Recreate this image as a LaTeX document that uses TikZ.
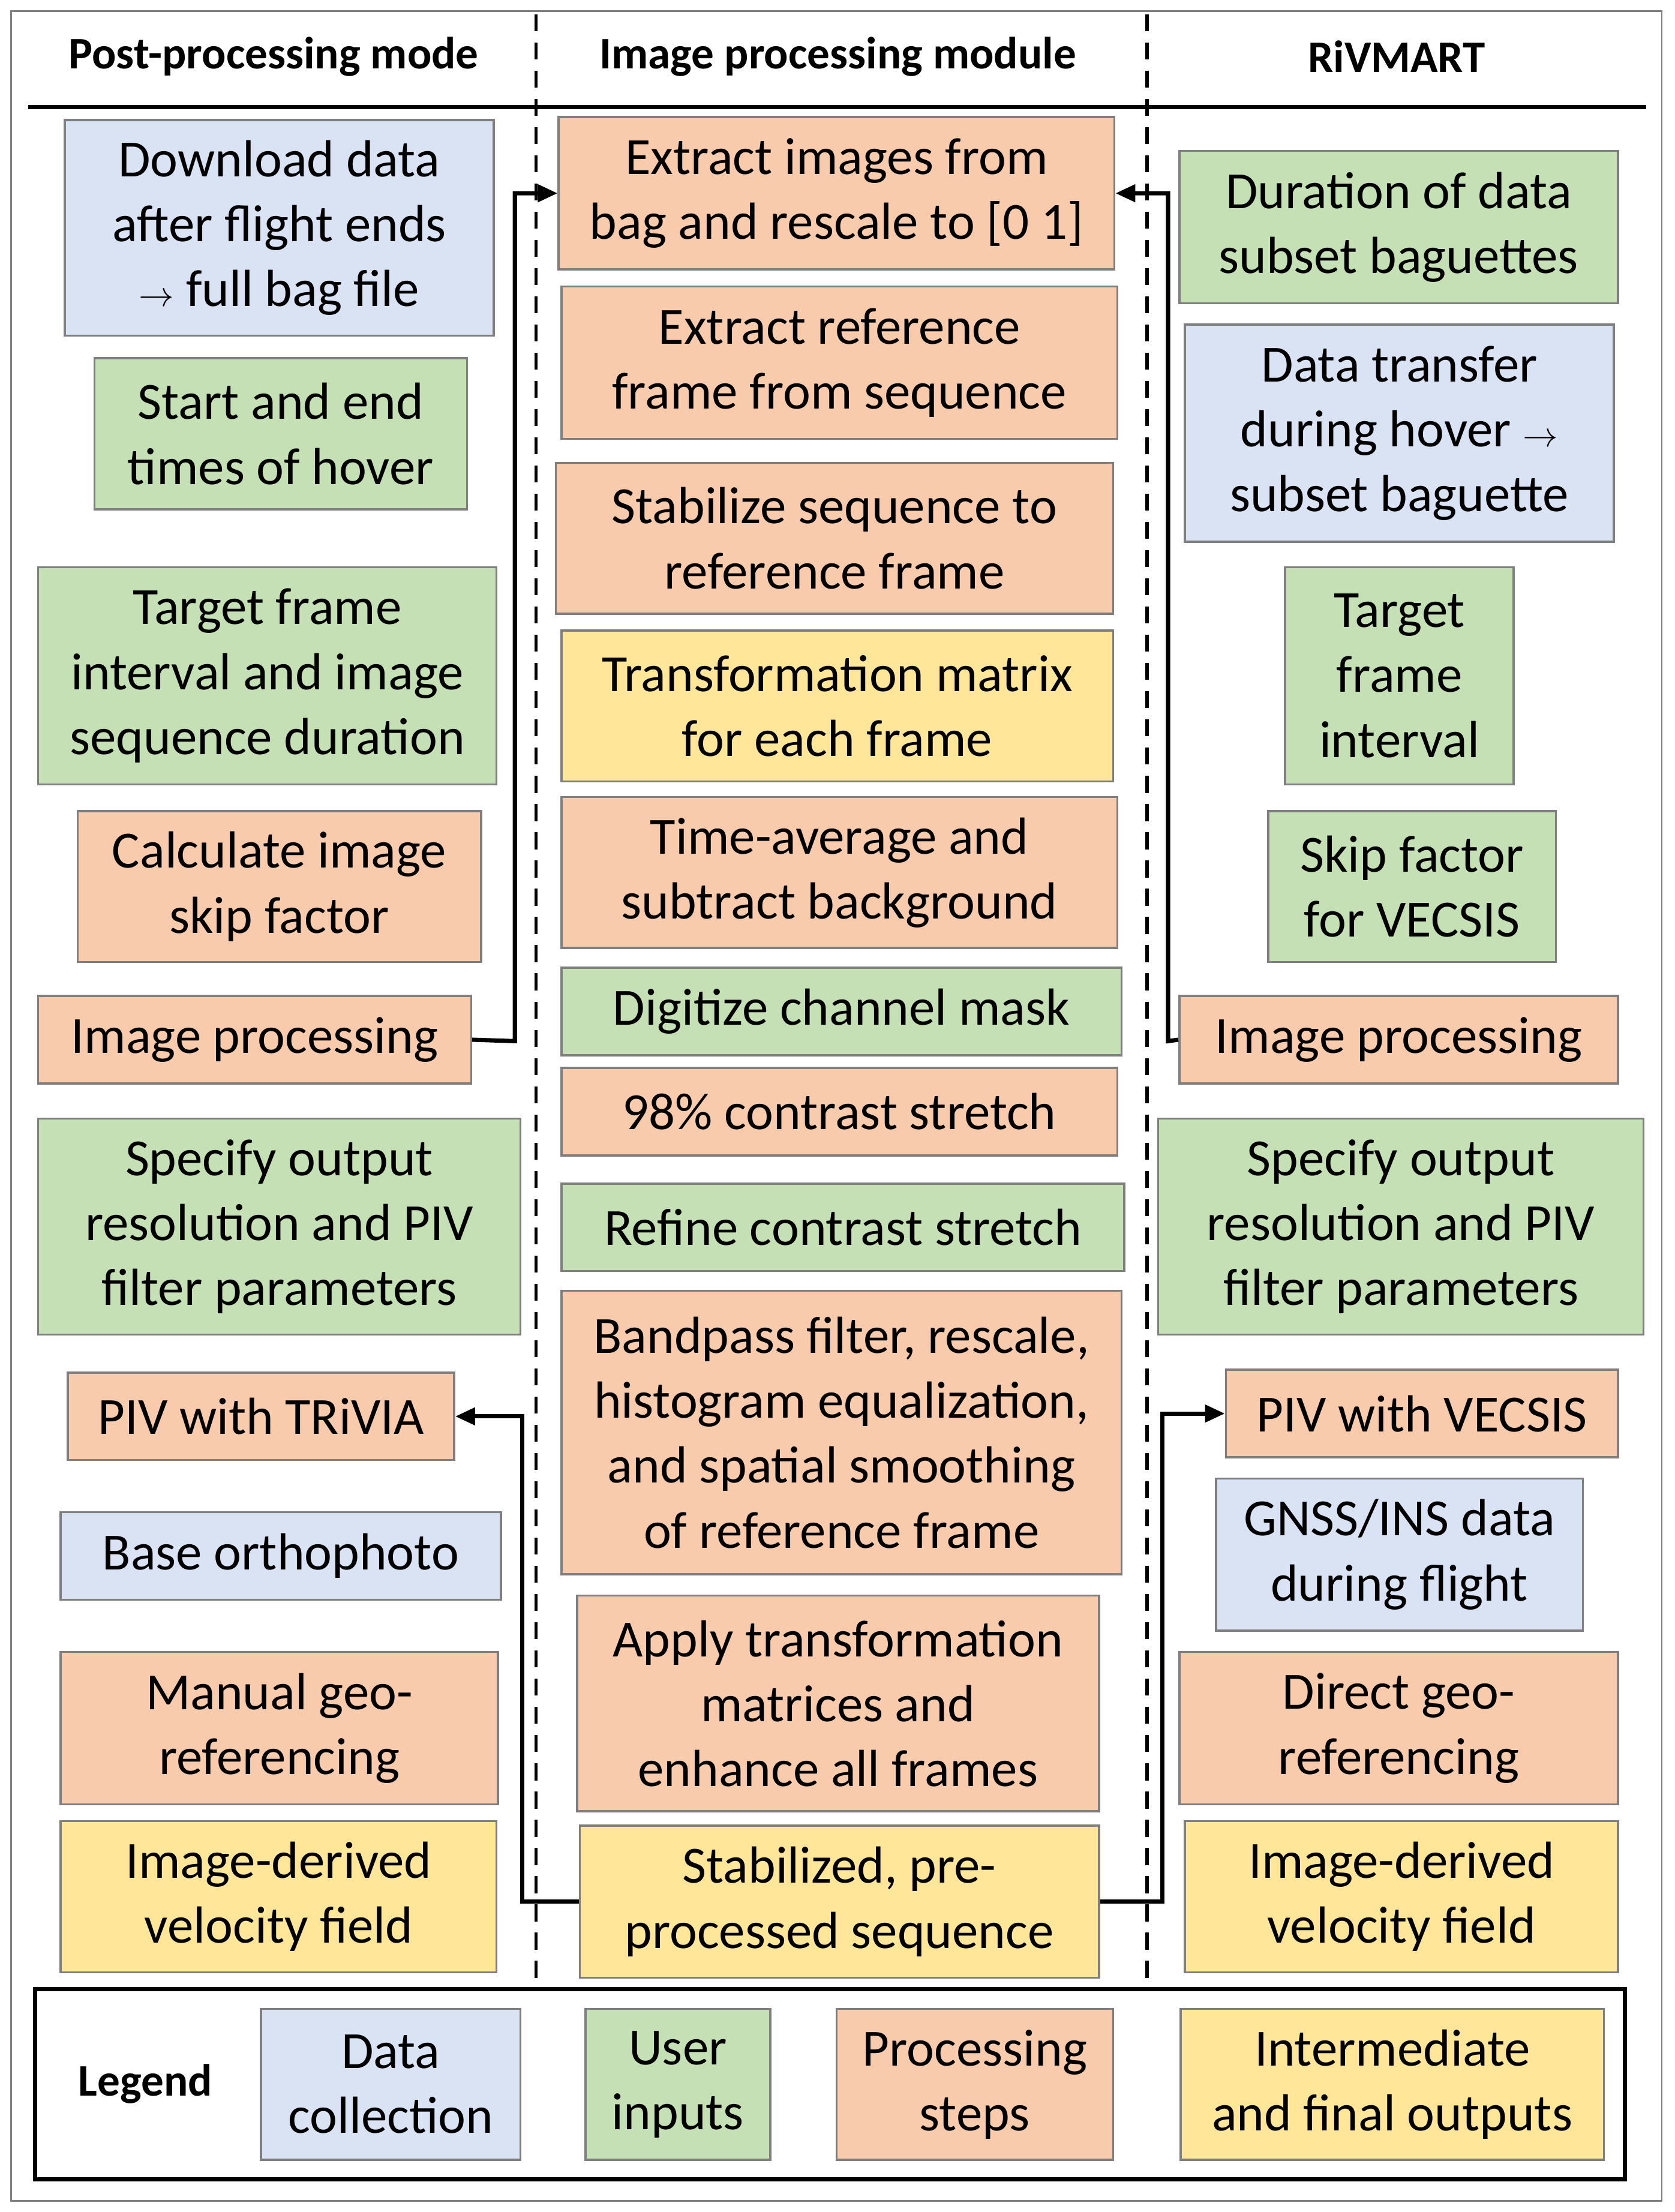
\documentclass[tikz,border=0pt]{standalone}
\usepackage{fontspec}
\setmainfont{Carlito}
\usetikzlibrary{arrows.meta}
\definecolor{cblue}{HTML}{DAE3F3}
\definecolor{cgreen}{HTML}{C5E0B4}
\definecolor{corange}{HTML}{F8CBAD}
\definecolor{cyellow}{HTML}{FFE699}
\definecolor{cedge}{HTML}{7F7F7F}
\tikzset{
 base/.style={draw=cedge,line width=1.5pt,align=center,inner sep=0pt,font=\fontsize{37}{46}\selectfont},
 blu/.style={base,fill=cblue}, grn/.style={base,fill=cgreen},
 org/.style={base,fill=corange}, yel/.style={base,fill=cyellow},
 hdr/.style={font=\fontsize{32}{38}\selectfont\bfseries},
 flow/.style={line width=3pt,-{Triangle[length=14pt,width=12pt]}},
 sep/.style={line width=2.5pt,dash pattern=on 12pt off 8pt}
}
\newcommand\bx[7]{\node[#6, minimum width={(#4-#2)*1pt}, minimum height={(#5-#3)*1pt}] (#1) at ({(#2+#4)/2},{(#3+#5)/2}) {#7};}
\begin{document}
\begin{tikzpicture}[x=1pt,y=-1pt]
\useasboundingbox[fill=white] (0,0) rectangle (1187,1568);
\draw[cedge,line width=1.2pt] (8,8) rectangle (1178,1560);
\node[hdr] (h1) at (194,40) {Post-processing mode};
\node[hdr] (h2) at (594,40) {Image processing module};
\node[hdr] (h3) at (990,40) {RiVMART};
\draw[line width=3pt] (20,76) -- (1167,76);
\draw[sep] (380,10) -- (380,1410);
\draw[sep] (813,10) -- (813,1410);
% left
\bx{l1}{46}{85}{350}{238}{blu}{Download data\\after flight ends\\$\rightarrow$ full bag file}
\bx{l2}{67}{254}{331}{361}{grn}{Start and end\\times of hover}
\bx{l3}{27}{402}{352}{556}{grn}{Target frame\\interval and image\\sequence duration}
\bx{l4}{55}{575}{341}{682}{org}{Calculate image\\skip factor}
\bx{l5}{27}{706}{334}{768}{org}{Image processing}
\bx{l6}{27}{793}{369}{946}{grn}{Specify output\\resolution and PIV\\filter parameters}
\bx{l7}{48}{973}{322}{1035}{org}{PIV with TRiVIA}
\bx{l8}{43}{1072}{355}{1134}{blu}{Base orthophoto}
\bx{l9}{43}{1171}{353}{1279}{org}{Manual geo-\\referencing}
\bx{l10}{43}{1291}{352}{1398}{yel}{Image-derived\\velocity field}
% middle
\bx{m1}{396}{83}{790}{191}{org}{Extract images from\\bag and rescale to [0 1]}
\bx{m2}{398}{203}{792}{311}{org}{Extract reference\\frame from sequence}
\bx{m3}{394}{328}{789}{435}{org}{Stabilize sequence to\\reference frame}
\bx{m4}{398}{447}{789}{554}{yel}{Transformation matrix\\for each frame}
\bx{m5}{398}{565}{792}{672}{org}{Time-average and\\subtract background}
\bx{m6}{398}{686}{795}{748}{grn}{Digitize channel mask}
\bx{m7}{398}{757}{792}{819}{org}{98\% contrast stretch}
\bx{m8}{398}{839}{797}{901}{grn}{Refine contrast stretch}
\bx{m9}{398}{915}{795}{1116}{org}{Bandpass filter, rescale,\\histogram equalization,\\and spatial smoothing\\of reference frame}
\bx{m10}{409}{1131}{779}{1284}{org}{Apply transformation\\matrices and\\enhance all frames}
\bx{m11}{411}{1294}{779}{1402}{yel}{Stabilized, pre-\\processed sequence}
% right
\bx{r1}{836}{107}{1147}{215}{grn}{Duration of data\\subset baguettes}
\bx{r2}{840}{230}{1144}{384}{blu}{Data transfer\\during hover $\rightarrow$\\subset baguette}
\bx{r3}{911}{402}{1073}{556}{grn}{Target\\frame\\interval}
\bx{r4}{899}{575}{1103}{682}{grn}{Skip factor\\for VECSIS}
\bx{r5}{836}{706}{1147}{768}{org}{Image processing}
\bx{r6}{821}{793}{1165}{946}{grn}{Specify output\\resolution and PIV\\filter parameters}
\bx{r7}{869}{971}{1147}{1033}{org}{PIV with VECSIS}
\bx{r8}{862}{1048}{1122}{1156}{blu}{GNSS/INS data\\during flight}
\bx{r9}{836}{1171}{1147}{1279}{org}{Direct geo-\\referencing}
\bx{r10}{840}{1291}{1147}{1398}{yel}{Image-derived\\velocity field}
% arrows
\draw[flow] (l5.east) -- (365,738) |- (m1.west);
\draw[flow] (r5.west) -- (828,738) |- (m1.east);
\draw[flow] (m11.west) -- (370,1348) |- (l7.east);
\draw[flow] (m11.east) -- (824,1348) |- (r7.west);
% legend
\draw[line width=3pt] (25,1410) rectangle (1152,1545);
\node[hdr] (lg) at (103,1477) {Legend};
\bx{g1}{185}{1424}{369}{1531}{blu}{Data\\collection}
\bx{g2}{415}{1424}{546}{1531}{grn}{User\\inputs}
\bx{g3}{593}{1424}{789}{1531}{org}{Processing\\steps}
\bx{g4}{837}{1424}{1137}{1531}{yel}{Intermediate\\and final outputs}
\end{tikzpicture}
\end{document}
